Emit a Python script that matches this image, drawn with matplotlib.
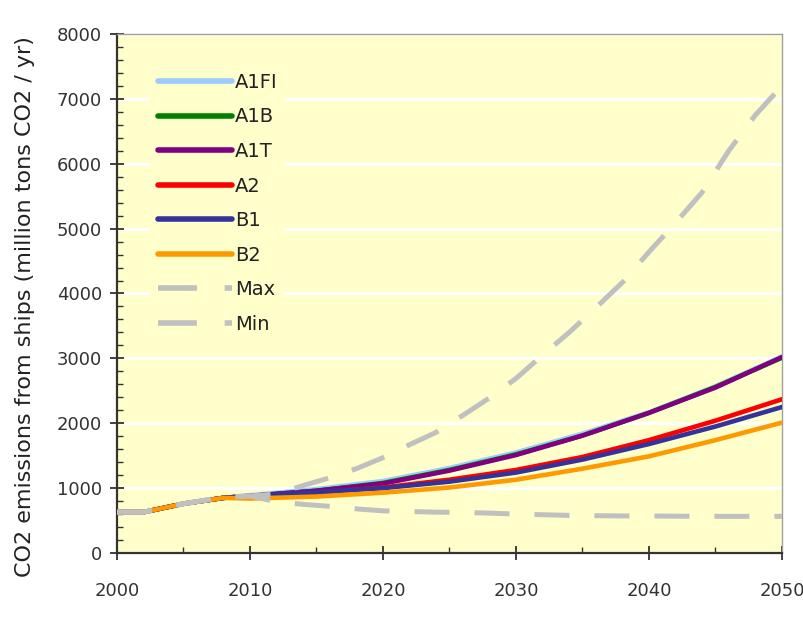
import numpy as np
import matplotlib.pyplot as plt
from matplotlib.ticker import MultipleLocator

### Scenario data: ship CO2 emissions (million tons CO2 / yr)
years = [2000, 2002, 2005, 2008, 2010, 2015, 2020, 2025, 2030, 2035, 2040, 2045, 2050]

a1fi = [630, 630, 760, 850, 890, 985, 1110, 1310, 1550, 1840, 2170, 2570, 3030]
a1b  = [630, 630, 760, 850, 880, 960, 1080, 1280, 1520, 1810, 2160, 2560, 3010]
a1t  = [630, 630, 760, 850, 880, 960, 1070, 1270, 1510, 1810, 2160, 2550, 3020]
a2   = [630, 630, 760, 850, 870, 930, 1010, 1130, 1280, 1480, 1740, 2040, 2370]
b1   = [630, 630, 760, 850, 880, 940, 1000, 1100, 1240, 1440, 1680, 1950, 2250]
b2   = [630, 630, 760, 850, 840, 870, 930, 1010, 1130, 1300, 1490, 1740, 2010]

years_env = [2000, 2002, 2005, 2008, 2010, 2012, 2014, 2016, 2018, 2020, 2022, 2024,
             2026, 2028, 2030, 2032, 2034, 2036, 2038, 2040, 2042, 2044, 2046, 2048, 2050]
max_env = [630, 630, 760, 860, 880, 910, 1040, 1160, 1300, 1470, 1670, 1860,
           2120, 2390, 2690, 3050, 3400, 3780, 4170, 4640, 5090, 5560, 6200, 6750, 7200]
min_env = [630, 630, 760, 860, 880, 790, 750, 720, 680, 650, 640, 630,
           625, 615, 600, 590, 580, 575, 572, 570, 568, 566, 565, 565, 565]

series = [
    ('A1FI', a1fi, '#99ccff'),
    ('A1B', a1b, '#008000'),
    ('A1T', a1t, '#800080'),
    ('A2', a2, '#ff0000'),
    ('B1', b1, '#333399'),
    ('B2', b2, '#ff9900'),
]

fig = plt.figure(figsize=(8.04, 6.29), dpi=100)
ax = fig.add_axes([0.1455, 0.1208, 0.8271, 0.8252])
ax.set_facecolor('#ffffcc')

for label, vals, col in series:
    ax.plot(years, vals, color=col, lw=3.3, label=label, solid_capstyle='round', zorder=3)

ax.plot(years_env, max_env, color='#c0c0c0', lw=3.6, ls=(0, (7, 5)), label='Max', zorder=4)
ax.plot(years_env, min_env, color='#c0c0c0', lw=3.6, ls=(0, (7, 5)), label='Min', zorder=4)

### Axes
ax.set_xlim(2000, 2050)
ax.set_ylim(0, 8000)
ax.set_xticks([2000, 2010, 2020, 2030, 2040, 2050])
ax.xaxis.set_minor_locator(MultipleLocator(5))
ax.set_yticks(np.arange(0, 8001, 1000))
ax.yaxis.set_minor_locator(MultipleLocator(200))

ax.grid(axis='y', which='major', color='white', lw=2.2, zorder=1)
ax.set_axisbelow(True)

ax.tick_params(which='major', direction='inout', length=9.5, width=1.3,
               color='#333333', labelsize=13, labelcolor='#333333')
ax.tick_params(axis='x', which='major', pad=16)
ax.tick_params(axis='y', which='major', pad=6)
ax.tick_params(which='minor', direction='in', length=4.5, width=1.0, color='#333333')

for s in ['left', 'bottom']:
    ax.spines[s].set_color('#333333')
    ax.spines[s].set_linewidth(1.6)
for s in ['top', 'right']:
    ax.spines[s].set_color('#a0a0a0')
    ax.spines[s].set_linewidth(1.0)

ax.set_ylabel('CO2 emissions from ships (million tons CO2 / yr)', fontsize=16,
              color='#222222')
ax.yaxis.set_label_coords(-0.124, 0.474)

leg = ax.legend(loc='upper left', bbox_to_anchor=(0.05, 0.94), frameon=True,
                fontsize=14, handlelength=3.8, handletextpad=0.15,
                labelspacing=0.8, borderpad=0.4, borderaxespad=0)
leg.get_frame().set_facecolor('#ffffcc')
leg.get_frame().set_edgecolor('none')
leg.get_frame().set_alpha(1)
leg.get_frame().set_boxstyle('square', pad=0)
for line in leg.get_lines():
    line.set_linewidth(4.0)
for t in leg.get_texts():
    t.set_color('#222222')

fig.savefig('out.png', dpi=100)
